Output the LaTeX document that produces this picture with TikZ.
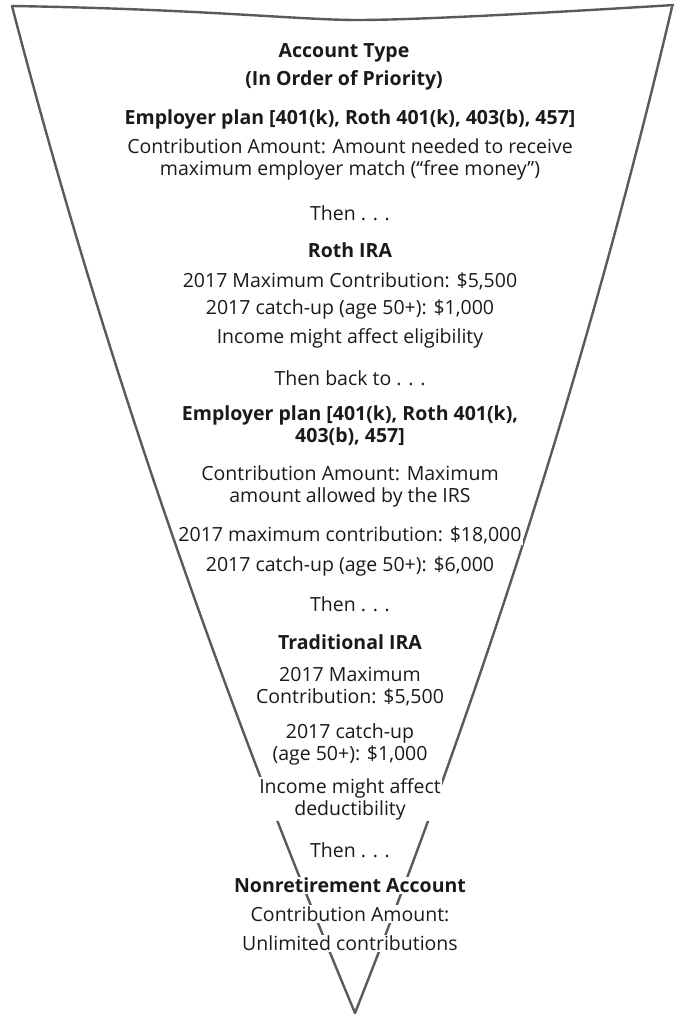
\documentclass[tikz,border=0pt]{standalone}
\usepackage{fontspec}
\setmainfont{Open Sans}
\definecolor{inkc}{HTML}{1A1A1A}
\definecolor{linec}{HTML}{5A5A5A}
\begin{document}
\begin{tikzpicture}[x=1pt,y=-1pt,
  funnel/.style={draw=linec,line width=2.4pt,line join=round,line cap=round},
  txt/.style={text=inkc,font=\fontsize{19.5}{22}\selectfont,align=center,inner sep=1pt,fill=white},
  hd/.style={txt,font=\fontsize{19.5}{22}\selectfont\bfseries}]
\useasboundingbox (0,0) rectangle (674,1018);
\fill[white] (0,0) rectangle (674,1018);
\coordinate (tl) at (12,6);
\coordinate (tr) at (674,5);
\coordinate (ap) at (355,1013);
\draw[funnel] (tl) .. controls (200,9) and (300,20) .. (357,20)
  .. controls (420,20) and (560,12) .. (tr);
\draw[funnel] (tl) .. controls (99,341) and (214,676) .. (ap);
\draw[funnel] (672,7) .. controls (593,343) and (488,677) .. (ap);

\node[hd] (t1) at (344,53) {Account Type};
\node[hd] (t2) at (344,80) {(In Order of Priority)};
\node[hd] (t3) at (350,119) {Employer plan [401(k), Roth 401(k), 403(b), 457]};
\node[txt] (t4) at (350,159) {Contribution Amount: Amount needed to receive\\maximum employer match (“free money”)};
\node[txt] (t5) at (350,213) {Then . . .};
\node[hd] (t6) at (350,250) {Roth IRA};
\node[txt] (t7) at (350,281) {2017 Maximum Contribution: \$5,500};
\node[txt] (t8) at (350,309) {2017 catch-up (age 50+): \$1,000};
\node[txt] (t9) at (350,338) {Income might affect eligibility};
\node[txt] (t10) at (350,378) {Then back to . . .};
\node[hd] (t11) at (350,426) {Employer plan [401(k), Roth 401(k),\\403(b), 457]};
\node[txt] (t12) at (350,486) {Contribution Amount: Maximum\\amount allowed by the IRS};
\node[txt] (t13) at (350,535) {2017 maximum contribution: \$18,000};
\node[txt] (t14) at (350,566) {2017 catch-up (age 50+): \$6,000};
\node[txt] (t15) at (350,604) {Then . . .};
\node[hd] (t16) at (350,642) {Traditional IRA};
\node[txt] (t17) at (350,687) {2017 Maximum\\Contribution: \$5,500};
\node[txt] (t18) at (350,744) {2017 catch-up\\(age 50+): \$1,000};
\node[txt] (t19) at (350,799) {Income might affect\\deductibility};
\node[txt] (t20) at (350,850) {Then . . .};
\node[hd] (t21) at (350,885) {Nonretirement Account};
\node[txt] (t22) at (350,914) {Contribution Amount:};
\node[txt] (t23) at (350,943) {Unlimited contributions};
\end{tikzpicture}
\end{document}
